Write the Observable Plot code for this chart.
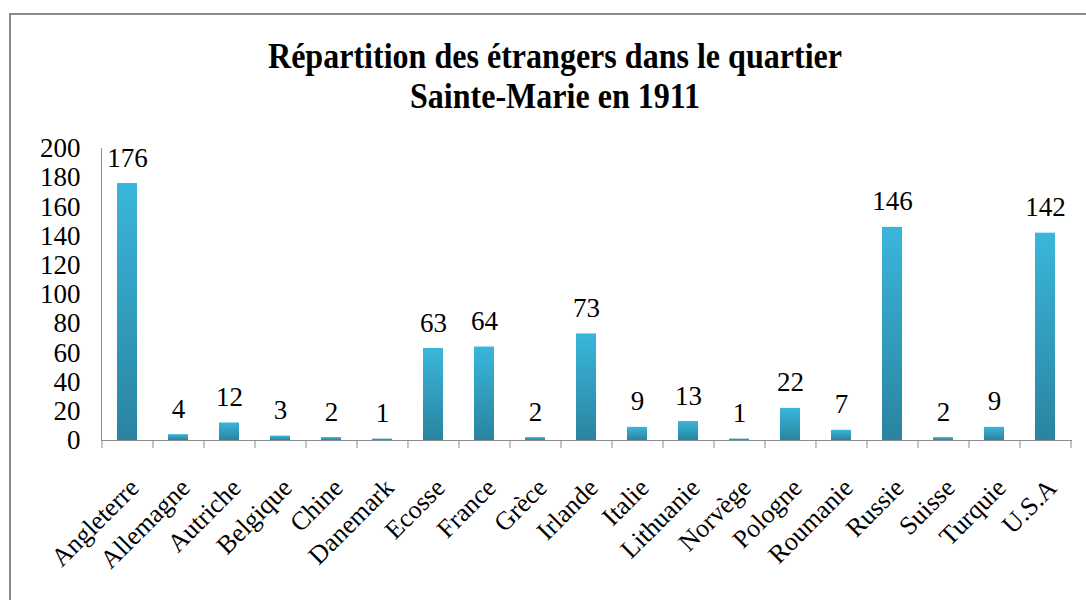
<!DOCTYPE html>
<html><head><meta charset="utf-8">
<script src="https://cdn.jsdelivr.net/npm/d3@7"></script>
<script src="https://cdn.jsdelivr.net/npm/@observablehq/plot@0.6"></script>
<style>
body{margin:0;background:#fff;width:1086px;height:600px;overflow:hidden;position:relative;font-family:"Liberation Serif","Times New Roman",serif;}
#frame{position:absolute;left:9px;top:13px;width:1100px;height:620px;border-top:2px solid #8a8a8a;border-left:2px solid #8a8a8a;}
#title{position:absolute;left:0;top:36px;width:1110px;text-align:center;font-weight:bold;font-size:36px;line-height:40px;transform:scaleX(0.89);color:#000;}
#chart{position:absolute;left:0;top:120px;}
</style></head><body>
<div id="frame"></div>
<div id="title">Répartition des étrangers dans le quartier<br>Sainte-Marie en 1911</div>
<div id="chart"></div>
<script>
const countries = ["Angleterre","Allemagne","Autriche","Belgique","Chine","Danemark","Ecosse","France","Grèce","Irlande","Italie","Lithuanie","Norvège","Pologne","Roumanie","Russie","Suisse","Turquie","U.S.A"];
const counts = [176,4,12,3,2,1,63,64,2,73,9,13,1,22,7,146,2,9,142];
const yTicks = [0,20,40,60,80,100,120,140,160,180,200];

const data = countries.map((c, i) => ({country: c, count: counts[i]}));
const step = (1086 - 101 - 15) / countries.length;

const gradientDefs = () => {
  const ns = "http://www.w3.org/2000/svg";
  const defs = document.createElementNS(ns, "defs");
  const g = document.createElementNS(ns, "linearGradient");
  g.setAttribute("id", "barGrad");
  g.setAttribute("x1", "0"); g.setAttribute("y1", "0");
  g.setAttribute("x2", "0"); g.setAttribute("y2", "1");
  [["0%", "#3ab6db"], ["100%", "#2a84a0"]].forEach(([o, c]) => {
    const s = document.createElementNS(ns, "stop");
    s.setAttribute("offset", o); s.setAttribute("stop-color", c);
    g.appendChild(s);
  });
  defs.appendChild(g);
  return defs;
};

const chart = Plot.plot({
  width: 1086,
  height: 480,
  marginLeft: 101,
  marginRight: 15,
  marginTop: 28,
  marginBottom: 160,
  x: {domain: countries, paddingInner: 0.6, paddingOuter: 0.3, align: 0.5, axis: null},
  y: {domain: [0, 200], axis: null},
  style: {fontFamily: "'Liberation Serif','Times New Roman',serif", fontSize: "27px", background: "transparent", overflow: "visible", color: "#000"},
  marks: [
    gradientDefs,
    Plot.barY(data, {x: "country", y: "count", fill: "url(#barGrad)"}),
    Plot.axisY({ticks: yTicks, tickSize: 0, tickPadding: 21, fontSize: 27, label: null}),
    Plot.frame({anchor: "left", stroke: "#8c8c8c"}),
    Plot.frame({anchor: "bottom", stroke: "#8c8c8c"}),
    Plot.axisX({tickSize: 8, tickFormat: () => "", dx: -step / 2, stroke: "#8c8c8c", label: null}),
    Plot.axisX({ticks: [countries[countries.length - 1]], tickSize: 8, tickFormat: () => "", dx: step / 2, stroke: "#8c8c8c", label: null}),
    Plot.text(data, {x: "country", frameAnchor: "bottom", text: "country", rotate: -45, textAnchor: "end", lineAnchor: "middle", dx: 7, dy: 43, fontSize: 26}),
    Plot.text(data, {x: "country", y: "count", text: d => String(d.count), lineAnchor: "bottom", dy: -17, fontSize: 27})
  ]
});
document.getElementById("chart").appendChild(chart);
</script>
</body></html>
